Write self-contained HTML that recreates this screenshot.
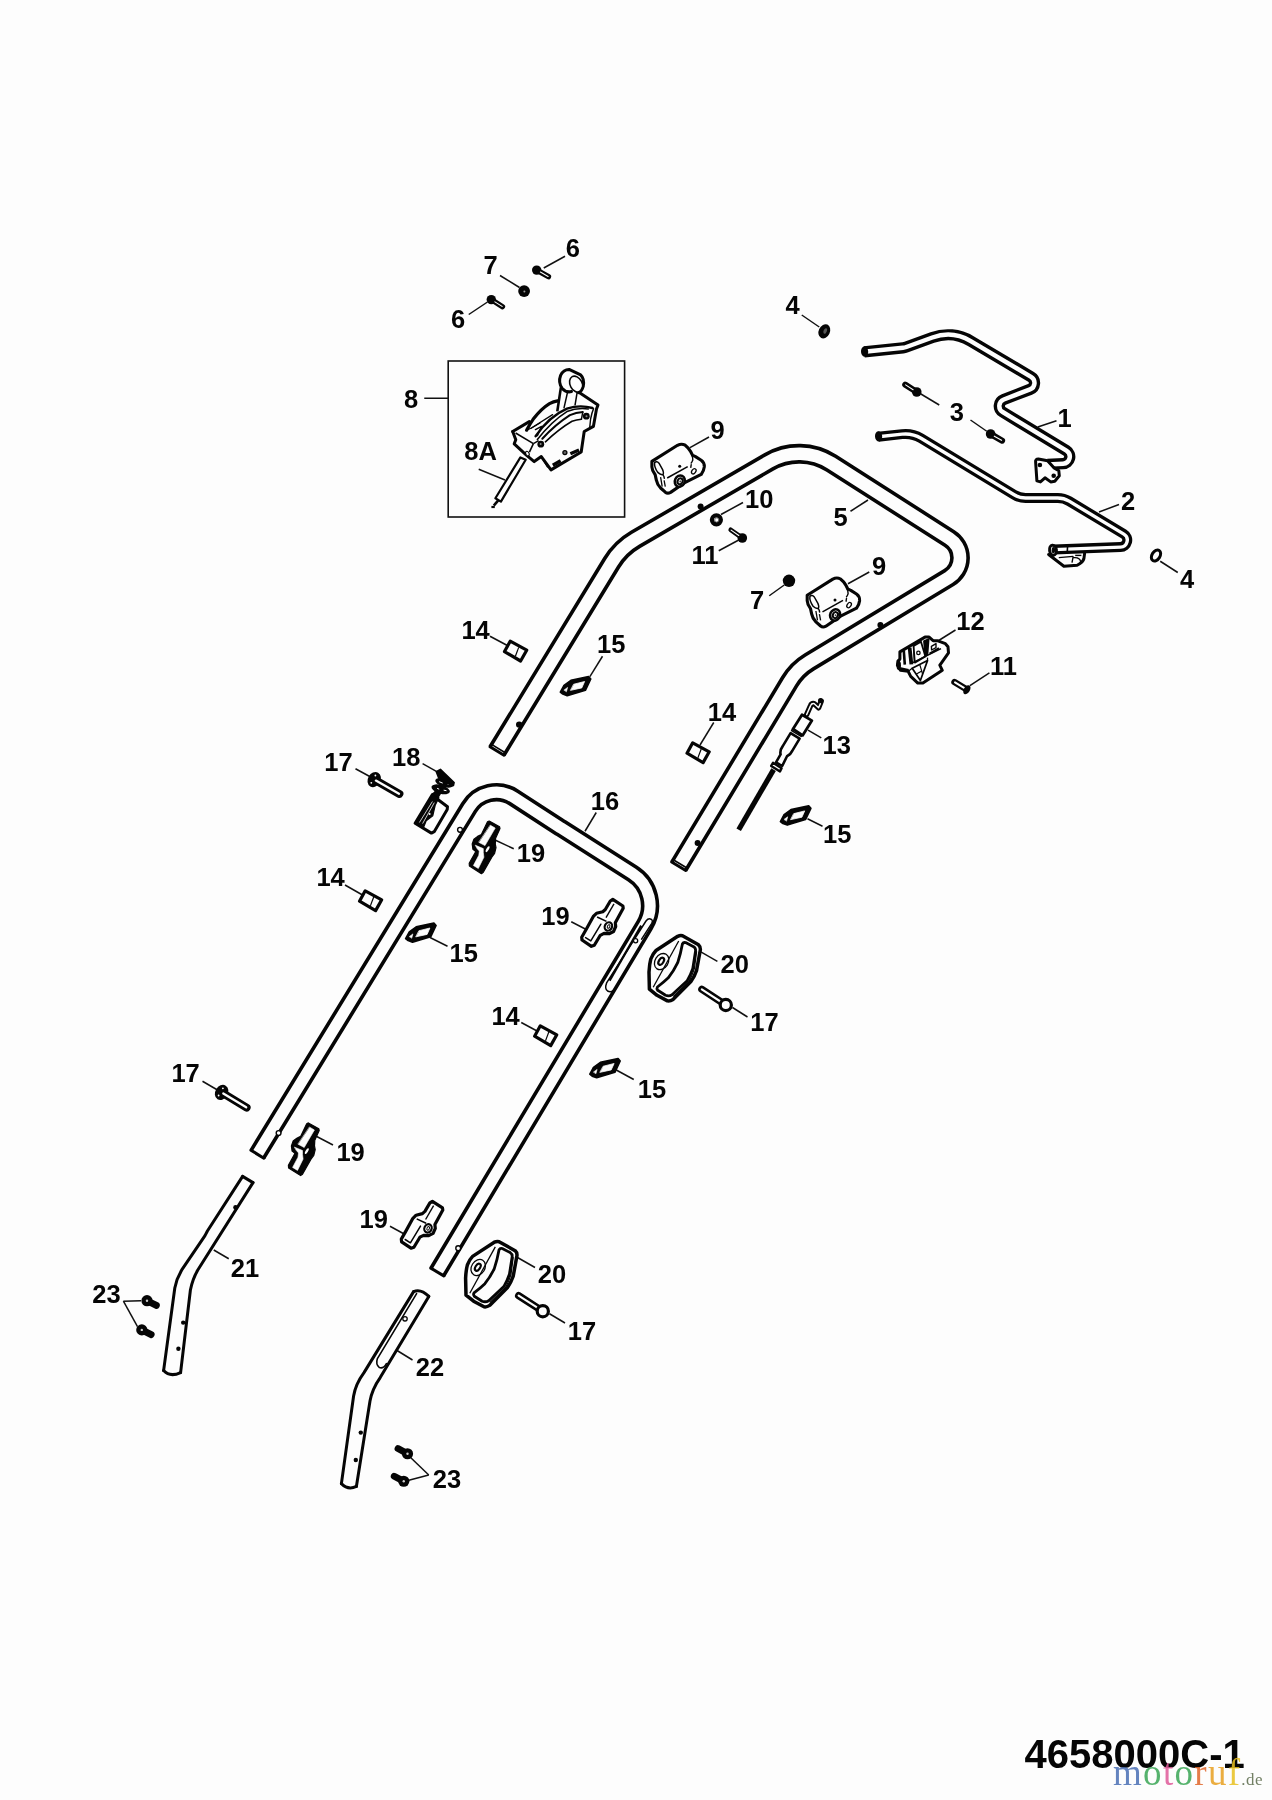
<!DOCTYPE html>
<html><head><meta charset="utf-8"><title>4658000C-1</title>
<style>html,body{margin:0;padding:0;background:#fdfdfd;}svg{display:block}</style></head>
<body><svg width="1272" height="1800" viewBox="0 0 1272 1800" style="will-change:transform">
<rect width="1272" height="1800" fill="#fdfdfd"/>
<path d="M497.00,751.00 L611.61,562.76 A68.00,68.00 0 0 1 635.54,539.32 L768.90,461.86 A60.00,60.00 0 0 1 831.31,463.15 L949.38,538.48 A23.00,23.00 0 0 1 948.91,577.56 L809.30,661.96 A58.00,58.00 0 0 0 789.60,681.72 L678.70,866.30" fill="none" stroke="#050505" stroke-width="19.8" stroke-linecap="butt" stroke-linejoin="round"/>
<path d="M497.00,751.00 L611.61,562.76 A68.00,68.00 0 0 1 635.54,539.32 L768.90,461.86 A60.00,60.00 0 0 1 831.31,463.15 L949.38,538.48 A23.00,23.00 0 0 1 948.91,577.56 L809.30,661.96 A58.00,58.00 0 0 0 789.60,681.72 L678.70,866.30" fill="none" stroke="#fdfdfd" stroke-width="12.6" stroke-linecap="butt" stroke-linejoin="round"/>
<line x1="504.0038951057213" y1="755.2644405668333" x2="489.9961048942787" y2="746.7355594331667" stroke="#050505" stroke-width="3.0" stroke-linecap="round"/>
<line x1="505.2321411311775" y1="752.7619523740274" x2="491.56785886882244" y2="744.4380476259727" stroke="#050505" stroke-width="1.6" stroke-linecap="round"/>
<line x1="685.7289208832906" y1="870.523064197528" x2="671.6710791167095" y2="862.0769358024719" stroke="#050505" stroke-width="3.0" stroke-linecap="round"/>
<line x1="686.9568308323583" y1="868.0211492252066" x2="673.2431691676418" y2="859.7788507747933" stroke="#050505" stroke-width="1.6" stroke-linecap="round"/>
<path d="M257.40,1154.20 L469.06,807.57 A32.00,32.00 0 0 1 513.79,797.41 L558.93,826.71 A300.00,300.00 0 0 0 561.07,828.08 L632.45,873.56 A38.00,38.00 0 0 1 644.65,925.10 L437.30,1272.00" fill="none" stroke="#050505" stroke-width="18.4" stroke-linecap="butt" stroke-linejoin="round"/>
<path d="M257.40,1154.20 L469.06,807.57 A32.00,32.00 0 0 1 513.79,797.41 L558.93,826.71 A300.00,300.00 0 0 0 561.07,828.08 L632.45,873.56 A38.00,38.00 0 0 1 644.65,925.10 L437.30,1272.00" fill="none" stroke="#fdfdfd" stroke-width="11.2" stroke-linecap="butt" stroke-linejoin="round"/>
<line x1="263.88635361787135" y1="1158.1607091213477" x2="250.91364638212858" y2="1150.2392908786524" stroke="#050505" stroke-width="3.0" stroke-linecap="round"/>
<line x1="443.82347458873375" y1="1275.8992665066837" x2="430.7765254112663" y2="1268.1007334933163" stroke="#050505" stroke-width="3.0" stroke-linecap="round"/>
<path d="M864.20,351.80 L902.98,347.78 A14.00,14.00 0 0 0 906.33,347.01 L932.37,337.51 A45.00,45.00 0 0 1 970.74,341.07 L1031.07,376.83 A7.00,7.00 0 0 1 1030.02,389.39 L1003.80,399.48 A7.00,7.00 0 0 0 1002.68,412.00 L1066.40,450.70 A7.00,7.00 0 0 1 1063.09,463.67 L1047.50,464.40" fill="none" stroke="#050505" stroke-width="11.3" stroke-linecap="butt" stroke-linejoin="round"/>
<path d="M864.20,351.80 L902.98,347.78 A14.00,14.00 0 0 0 906.33,347.01 L932.37,337.51 A45.00,45.00 0 0 1 970.74,341.07 L1031.07,376.83 A7.00,7.00 0 0 1 1030.02,389.39 L1003.80,399.48 A7.00,7.00 0 0 0 1002.68,412.00 L1066.40,450.70 A7.00,7.00 0 0 1 1063.09,463.67 L1047.50,464.40" fill="none" stroke="#fdfdfd" stroke-width="4.5" stroke-linecap="butt" stroke-linejoin="round"/>
<path d="M878.30,436.80 L902.14,434.14 A30.00,30.00 0 0 1 921.04,438.30 L1014.14,494.81 A22.00,22.00 0 0 0 1025.55,498.00 L1057.79,498.00 A22.00,22.00 0 0 1 1069.13,501.15 L1123.87,534.09 A7.00,7.00 0 0 1 1120.53,547.08 L1053.50,549.60" fill="none" stroke="#050505" stroke-width="10.0" stroke-linecap="butt" stroke-linejoin="round"/>
<path d="M878.30,436.80 L902.14,434.14 A30.00,30.00 0 0 1 921.04,438.30 L1014.14,494.81 A22.00,22.00 0 0 0 1025.55,498.00 L1057.79,498.00 A22.00,22.00 0 0 1 1069.13,501.15 L1123.87,534.09 A7.00,7.00 0 0 1 1120.53,547.08 L1053.50,549.60" fill="none" stroke="#fdfdfd" stroke-width="3.4" stroke-linecap="butt" stroke-linejoin="round"/>
<rect x="448.2" y="361" width="176.4" height="156" fill="none" stroke="#111" stroke-width="1.6"/>
<text x="1064.60" y="426.77" text-anchor="middle" font-size="25.5" font-weight="bold" fill="#050505" font-family="'Liberation Sans', sans-serif" >1</text>
<text x="1128.00" y="510.17" text-anchor="middle" font-size="25.5" font-weight="bold" fill="#050505" font-family="'Liberation Sans', sans-serif" >2</text>
<text x="956.75" y="420.67" text-anchor="middle" font-size="25.5" font-weight="bold" fill="#050505" font-family="'Liberation Sans', sans-serif" >3</text>
<text x="792.60" y="314.37" text-anchor="middle" font-size="25.5" font-weight="bold" fill="#050505" font-family="'Liberation Sans', sans-serif" >4</text>
<text x="1187.10" y="588.37" text-anchor="middle" font-size="25.5" font-weight="bold" fill="#050505" font-family="'Liberation Sans', sans-serif" >4</text>
<text x="840.50" y="525.77" text-anchor="middle" font-size="25.5" font-weight="bold" fill="#050505" font-family="'Liberation Sans', sans-serif" >5</text>
<text x="572.90" y="257.02" text-anchor="middle" font-size="25.5" font-weight="bold" fill="#050505" font-family="'Liberation Sans', sans-serif" >6</text>
<text x="458.00" y="327.77" text-anchor="middle" font-size="25.5" font-weight="bold" fill="#050505" font-family="'Liberation Sans', sans-serif" >6</text>
<text x="490.60" y="274.37" text-anchor="middle" font-size="25.5" font-weight="bold" fill="#050505" font-family="'Liberation Sans', sans-serif" >7</text>
<text x="757.00" y="609.37" text-anchor="middle" font-size="25.5" font-weight="bold" fill="#050505" font-family="'Liberation Sans', sans-serif" >7</text>
<text x="411.00" y="407.52" text-anchor="middle" font-size="25.5" font-weight="bold" fill="#050505" font-family="'Liberation Sans', sans-serif" >8</text>
<text x="480.60" y="460.02" text-anchor="middle" font-size="25.5" font-weight="bold" fill="#050505" font-family="'Liberation Sans', sans-serif" >8A</text>
<text x="717.50" y="438.77" text-anchor="middle" font-size="25.5" font-weight="bold" fill="#050505" font-family="'Liberation Sans', sans-serif" >9</text>
<text x="879.00" y="574.77" text-anchor="middle" font-size="25.5" font-weight="bold" fill="#050505" font-family="'Liberation Sans', sans-serif" >9</text>
<text x="759.25" y="507.67" text-anchor="middle" font-size="25.5" font-weight="bold" fill="#050505" font-family="'Liberation Sans', sans-serif" >10</text>
<text x="705.00" y="564.37" text-anchor="middle" font-size="25.5" font-weight="bold" fill="#050505" font-family="'Liberation Sans', sans-serif" >11</text>
<text x="1003.40" y="675.17" text-anchor="middle" font-size="25.5" font-weight="bold" fill="#050505" font-family="'Liberation Sans', sans-serif" >11</text>
<text x="970.50" y="629.52" text-anchor="middle" font-size="25.5" font-weight="bold" fill="#050505" font-family="'Liberation Sans', sans-serif" >12</text>
<text x="836.70" y="754.07" text-anchor="middle" font-size="25.5" font-weight="bold" fill="#050505" font-family="'Liberation Sans', sans-serif" >13</text>
<text x="475.60" y="639.37" text-anchor="middle" font-size="25.5" font-weight="bold" fill="#050505" font-family="'Liberation Sans', sans-serif" >14</text>
<text x="722.00" y="720.67" text-anchor="middle" font-size="25.5" font-weight="bold" fill="#050505" font-family="'Liberation Sans', sans-serif" >14</text>
<text x="330.60" y="885.77" text-anchor="middle" font-size="25.5" font-weight="bold" fill="#050505" font-family="'Liberation Sans', sans-serif" >14</text>
<text x="505.60" y="1024.77" text-anchor="middle" font-size="25.5" font-weight="bold" fill="#050505" font-family="'Liberation Sans', sans-serif" >14</text>
<text x="611.25" y="653.17" text-anchor="middle" font-size="25.5" font-weight="bold" fill="#050505" font-family="'Liberation Sans', sans-serif" >15</text>
<text x="837.25" y="842.77" text-anchor="middle" font-size="25.5" font-weight="bold" fill="#050505" font-family="'Liberation Sans', sans-serif" >15</text>
<text x="463.75" y="961.77" text-anchor="middle" font-size="25.5" font-weight="bold" fill="#050505" font-family="'Liberation Sans', sans-serif" >15</text>
<text x="651.90" y="1097.52" text-anchor="middle" font-size="25.5" font-weight="bold" fill="#050505" font-family="'Liberation Sans', sans-serif" >15</text>
<text x="605.00" y="809.77" text-anchor="middle" font-size="25.5" font-weight="bold" fill="#050505" font-family="'Liberation Sans', sans-serif" >16</text>
<text x="338.50" y="770.77" text-anchor="middle" font-size="25.5" font-weight="bold" fill="#050505" font-family="'Liberation Sans', sans-serif" >17</text>
<text x="764.40" y="1030.67" text-anchor="middle" font-size="25.5" font-weight="bold" fill="#050505" font-family="'Liberation Sans', sans-serif" >17</text>
<text x="185.60" y="1082.37" text-anchor="middle" font-size="25.5" font-weight="bold" fill="#050505" font-family="'Liberation Sans', sans-serif" >17</text>
<text x="581.90" y="1339.77" text-anchor="middle" font-size="25.5" font-weight="bold" fill="#050505" font-family="'Liberation Sans', sans-serif" >17</text>
<text x="406.25" y="766.02" text-anchor="middle" font-size="25.5" font-weight="bold" fill="#050505" font-family="'Liberation Sans', sans-serif" >18</text>
<text x="531.00" y="862.17" text-anchor="middle" font-size="25.5" font-weight="bold" fill="#050505" font-family="'Liberation Sans', sans-serif" >19</text>
<text x="555.40" y="924.77" text-anchor="middle" font-size="25.5" font-weight="bold" fill="#050505" font-family="'Liberation Sans', sans-serif" >19</text>
<text x="350.60" y="1160.77" text-anchor="middle" font-size="25.5" font-weight="bold" fill="#050505" font-family="'Liberation Sans', sans-serif" >19</text>
<text x="373.75" y="1228.17" text-anchor="middle" font-size="25.5" font-weight="bold" fill="#050505" font-family="'Liberation Sans', sans-serif" >19</text>
<text x="734.75" y="973.37" text-anchor="middle" font-size="25.5" font-weight="bold" fill="#050505" font-family="'Liberation Sans', sans-serif" >20</text>
<text x="552.00" y="1282.52" text-anchor="middle" font-size="25.5" font-weight="bold" fill="#050505" font-family="'Liberation Sans', sans-serif" >20</text>
<text x="245.00" y="1277.27" text-anchor="middle" font-size="25.5" font-weight="bold" fill="#050505" font-family="'Liberation Sans', sans-serif" >21</text>
<text x="430.00" y="1375.67" text-anchor="middle" font-size="25.5" font-weight="bold" fill="#050505" font-family="'Liberation Sans', sans-serif" >22</text>
<text x="106.50" y="1303.37" text-anchor="middle" font-size="25.5" font-weight="bold" fill="#050505" font-family="'Liberation Sans', sans-serif" >23</text>
<text x="446.90" y="1488.37" text-anchor="middle" font-size="25.5" font-weight="bold" fill="#050505" font-family="'Liberation Sans', sans-serif" >23</text>
<line x1="1037.75" y1="427" x2="1056.5" y2="420.75" stroke="#111" stroke-width="1.5" stroke-linecap="butt"/>
<line x1="1099" y1="512" x2="1119" y2="504.5" stroke="#111" stroke-width="1.5" stroke-linecap="butt"/>
<line x1="920.5" y1="393.75" x2="939.25" y2="405" stroke="#111" stroke-width="1.5" stroke-linecap="butt"/>
<line x1="970.5" y1="420" x2="986.75" y2="431.25" stroke="#111" stroke-width="1.5" stroke-linecap="butt"/>
<line x1="801.75" y1="315" x2="819.25" y2="327" stroke="#111" stroke-width="1.5" stroke-linecap="butt"/>
<line x1="1160.25" y1="561.25" x2="1177.75" y2="572.5" stroke="#111" stroke-width="1.5" stroke-linecap="butt"/>
<line x1="850.5" y1="511.25" x2="868" y2="500" stroke="#111" stroke-width="1.5" stroke-linecap="butt"/>
<line x1="543.75" y1="268" x2="565" y2="256.25" stroke="#111" stroke-width="1.5" stroke-linecap="butt"/>
<line x1="468.75" y1="314.5" x2="487.5" y2="302" stroke="#111" stroke-width="1.5" stroke-linecap="butt"/>
<line x1="500" y1="275.5" x2="519.5" y2="287.5" stroke="#111" stroke-width="1.5" stroke-linecap="butt"/>
<line x1="769.25" y1="595.75" x2="784.25" y2="585" stroke="#111" stroke-width="1.5" stroke-linecap="butt"/>
<line x1="424.25" y1="398.25" x2="448.25" y2="398.25" stroke="#111" stroke-width="1.5" stroke-linecap="butt"/>
<line x1="478.75" y1="469.25" x2="505" y2="480" stroke="#111" stroke-width="1.5" stroke-linecap="butt"/>
<line x1="690" y1="447.7" x2="709" y2="437" stroke="#111" stroke-width="1.5" stroke-linecap="butt"/>
<line x1="848" y1="583.75" x2="869.25" y2="572" stroke="#111" stroke-width="1.5" stroke-linecap="butt"/>
<line x1="721" y1="514.5" x2="743" y2="502.5" stroke="#111" stroke-width="1.5" stroke-linecap="butt"/>
<line x1="718.75" y1="550.75" x2="738.75" y2="540" stroke="#111" stroke-width="1.5" stroke-linecap="butt"/>
<line x1="969.9" y1="685.6" x2="989.4" y2="672.9" stroke="#111" stroke-width="1.5" stroke-linecap="butt"/>
<line x1="935.5" y1="642.5" x2="955.5" y2="630" stroke="#111" stroke-width="1.5" stroke-linecap="butt"/>
<line x1="808" y1="730.2" x2="821.3" y2="737.9" stroke="#111" stroke-width="1.5" stroke-linecap="butt"/>
<line x1="490" y1="636.25" x2="508.75" y2="646.25" stroke="#111" stroke-width="1.5" stroke-linecap="butt"/>
<line x1="713.75" y1="722.5" x2="700" y2="745" stroke="#111" stroke-width="1.5" stroke-linecap="butt"/>
<line x1="345" y1="885" x2="362.5" y2="895" stroke="#111" stroke-width="1.5" stroke-linecap="butt"/>
<line x1="521.25" y1="1022.5" x2="537.5" y2="1031.25" stroke="#111" stroke-width="1.5" stroke-linecap="butt"/>
<line x1="602.5" y1="656.25" x2="589.9" y2="676.6" stroke="#111" stroke-width="1.5" stroke-linecap="butt"/>
<line x1="807.5" y1="818.75" x2="822.5" y2="826.25" stroke="#111" stroke-width="1.5" stroke-linecap="butt"/>
<line x1="430" y1="937.5" x2="447.5" y2="946.25" stroke="#111" stroke-width="1.5" stroke-linecap="butt"/>
<line x1="616.25" y1="1070" x2="633.75" y2="1079.5" stroke="#111" stroke-width="1.5" stroke-linecap="butt"/>
<line x1="596.25" y1="812.5" x2="585" y2="831.25" stroke="#111" stroke-width="1.5" stroke-linecap="butt"/>
<line x1="355.5" y1="768.75" x2="372.5" y2="778" stroke="#111" stroke-width="1.5" stroke-linecap="butt"/>
<line x1="732.5" y1="1007.5" x2="747.5" y2="1017" stroke="#111" stroke-width="1.5" stroke-linecap="butt"/>
<line x1="202.5" y1="1081.25" x2="217.5" y2="1090" stroke="#111" stroke-width="1.5" stroke-linecap="butt"/>
<line x1="549.5" y1="1313.75" x2="565" y2="1323" stroke="#111" stroke-width="1.5" stroke-linecap="butt"/>
<line x1="422.6" y1="763.6" x2="436.8" y2="771.6" stroke="#111" stroke-width="1.5" stroke-linecap="butt"/>
<line x1="495" y1="840" x2="513.75" y2="848.75" stroke="#111" stroke-width="1.5" stroke-linecap="butt"/>
<line x1="571.25" y1="921.75" x2="586.25" y2="929.5" stroke="#111" stroke-width="1.5" stroke-linecap="butt"/>
<line x1="316.25" y1="1136.25" x2="333" y2="1145" stroke="#111" stroke-width="1.5" stroke-linecap="butt"/>
<line x1="390" y1="1226.25" x2="403.75" y2="1233.75" stroke="#111" stroke-width="1.5" stroke-linecap="butt"/>
<line x1="700.8" y1="951.9" x2="717.4" y2="961.3" stroke="#111" stroke-width="1.5" stroke-linecap="butt"/>
<line x1="517.5" y1="1257.5" x2="535" y2="1267.5" stroke="#111" stroke-width="1.5" stroke-linecap="butt"/>
<line x1="213.75" y1="1250" x2="228.75" y2="1258.75" stroke="#111" stroke-width="1.5" stroke-linecap="butt"/>
<line x1="396.25" y1="1350" x2="412.5" y2="1360" stroke="#111" stroke-width="1.5" stroke-linecap="butt"/>
<line x1="123.4" y1="1301.2" x2="141" y2="1300.8" stroke="#111" stroke-width="1.5" stroke-linecap="butt"/>
<line x1="123.4" y1="1301.2" x2="137.5" y2="1326.6" stroke="#111" stroke-width="1.5" stroke-linecap="butt"/>
<line x1="409" y1="1456" x2="428.75" y2="1475" stroke="#111" stroke-width="1.5" stroke-linecap="butt"/>
<line x1="406" y1="1481" x2="428.75" y2="1475" stroke="#111" stroke-width="1.5" stroke-linecap="butt"/>
<text x="1134.70" y="1768.36" text-anchor="middle" font-size="40" font-weight="bold" fill="#050505" font-family="'Liberation Sans', sans-serif" >4658000C-1</text>
<defs><linearGradient id="wmg" gradientUnits="userSpaceOnUse" x1="1113" y1="0" x2="1245" y2="0"><stop offset="0.0000" stop-color="#4a6fb5"/><stop offset="0.2280" stop-color="#4a6fb5"/><stop offset="0.2280" stop-color="#3aa655"/><stop offset="0.3780" stop-color="#3aa655"/><stop offset="0.3780" stop-color="#e05a9a"/><stop offset="0.4659" stop-color="#e05a9a"/><stop offset="0.4659" stop-color="#3aa655"/><stop offset="0.6159" stop-color="#3aa655"/><stop offset="0.6159" stop-color="#e0662a"/><stop offset="0.7189" stop-color="#e0662a"/><stop offset="0.7189" stop-color="#e8a020"/><stop offset="0.8689" stop-color="#e8a020"/><stop offset="0.8689" stop-color="#e8c020"/><stop offset="1.0000" stop-color="#e8c020"/></linearGradient></defs>
<text x="1113" y="1785" font-family="'Liberation Serif', serif" font-size="37" letter-spacing="1.3" opacity="0.85" fill="url(#wmg)">motoruf<tspan fill="#5a6a4a" font-size="17" letter-spacing="0.5">.de</tspan></text>
<line x1="536.7" y1="270.1" x2="548.5" y2="276.6" stroke="#050505" stroke-width="5.3" stroke-linecap="round"/>
<circle cx="536.7" cy="270.1" r="4.7" fill="#050505"/>
<line x1="540.4" y1="272.1" x2="548.1" y2="276.4" stroke="#fdfdfd" stroke-width="1.1" stroke-linecap="round"/>
<line x1="491.3" y1="299.6" x2="502.5" y2="306.7" stroke="#050505" stroke-width="5.3" stroke-linecap="round"/>
<circle cx="491.3" cy="299.6" r="4.7" fill="#050505"/>
<line x1="494.9" y1="301.9" x2="502.1" y2="306.4" stroke="#fdfdfd" stroke-width="1.1" stroke-linecap="round"/>
<circle cx="524.1" cy="291.1" r="5.9" fill="#050505"/>
<circle cx="524.4" cy="291.40000000000003" r="1.0" fill="#999"/>
<circle cx="789" cy="580.8" r="6.2" fill="#050505"/>
<circle cx="716.4" cy="519.8" r="4.5" fill="#fdfdfd" stroke="#050505" stroke-width="4.2"/>
<circle cx="716.8" cy="520" r="2.1" fill="none" stroke="#555" stroke-width="0.8"/>
<line x1="742.3" y1="538" x2="730.7" y2="529.8" stroke="#050505" stroke-width="4.6" stroke-linecap="round"/>
<circle cx="742.3" cy="538" r="4.8" fill="#050505"/>
<line x1="738.8" y1="535.5" x2="731.1" y2="530.1" stroke="#fdfdfd" stroke-width="1.1" stroke-linecap="round"/>
<line x1="966.0" y1="689.0" x2="954.4" y2="682.0" stroke="#050505" stroke-width="6.2" stroke-linecap="round"/>
<line x1="964.0" y1="687.8" x2="955.0" y2="682.4" stroke="#fdfdfd" stroke-width="2.0" stroke-linecap="round"/>
<ellipse cx="966.9" cy="689.7" rx="3.0" ry="5.0" transform="rotate(31 966.9 689.7)" fill="#050505"/>
<line x1="916.75" y1="392" x2="905.2" y2="384.6" stroke="#050505" stroke-width="6.0" stroke-linecap="round"/>
<circle cx="916.75" cy="392" r="4.8" fill="#050505"/>
<line x1="913.1" y1="389.7" x2="905.6" y2="384.9" stroke="#fdfdfd" stroke-width="1.1" stroke-linecap="round"/>
<line x1="990.6" y1="434.0" x2="1002.0" y2="440.6" stroke="#050505" stroke-width="6.2" stroke-linecap="round"/>
<circle cx="990.6" cy="434.0" r="4.8" fill="#050505"/>
<line x1="994.3" y1="436.2" x2="1001.6" y2="440.3" stroke="#fdfdfd" stroke-width="1.1" stroke-linecap="round"/>
<circle cx="700.6" cy="506.6" r="3.0" fill="#050505"/>
<circle cx="880.4" cy="625.0" r="3.0" fill="#050505"/>
<circle cx="519.2" cy="724.6" r="3.2" fill="#050505"/>
<circle cx="697.6" cy="843.0" r="3.0" fill="#050505"/>
<ellipse cx="824.3" cy="331.3" rx="5.6" ry="7.4" transform="rotate(25 824.3 331.3)" fill="#050505"/>
<ellipse cx="825.2" cy="331.0" rx="1.6" ry="3.0" transform="rotate(25 825.2 331)" fill="#555"/>
<ellipse cx="1156" cy="555.5" rx="4.0" ry="6.0" transform="rotate(32 1156 555.5)" fill="#fdfdfd" stroke="#050505" stroke-width="3.0"/>
<ellipse cx="864.6" cy="351.6" rx="3.6" ry="5.2" transform="rotate(-5 864.6 351.6)" fill="#050505"/>
<ellipse cx="878.6" cy="436.4" rx="3.6" ry="5.2" transform="rotate(-5 878.6 436.4)" fill="#050505"/>
<path d="M510.2,641.2 L526.7,650.2 L520.6,661.0 L504.5,651.6 Z" fill="#fdfdfd" stroke="#050505" stroke-width="3.2" stroke-linejoin="round" stroke-linecap="round" />
<line x1="518.7" y1="647.4" x2="515.4" y2="656.3" stroke="#050505" stroke-width="1.2" stroke-linecap="butt"/>
<path d="M692.7,742.8 L709.2,751.8 L703.1,762.6 L687.0,753.2 Z" fill="#fdfdfd" stroke="#050505" stroke-width="3.2" stroke-linejoin="round" stroke-linecap="round" />
<line x1="701.2" y1="749.0" x2="697.9" y2="757.9" stroke="#050505" stroke-width="1.2" stroke-linecap="butt"/>
<path d="M365.2,890.8 L381.7,899.8 L375.6,910.6 L359.5,901.2 Z" fill="#fdfdfd" stroke="#050505" stroke-width="3.2" stroke-linejoin="round" stroke-linecap="round" />
<line x1="373.7" y1="897.0" x2="370.4" y2="905.9" stroke="#050505" stroke-width="1.2" stroke-linecap="butt"/>
<path d="M540.3,1025.8 L556.8,1034.8 L550.7,1045.6 L534.6,1036.2 Z" fill="#fdfdfd" stroke="#050505" stroke-width="3.2" stroke-linejoin="round" stroke-linecap="round" />
<line x1="548.8000000000001" y1="1032.0" x2="545.5" y2="1040.8999999999999" stroke="#050505" stroke-width="1.2" stroke-linecap="butt"/>
<path d="M560.3,692.2 L564.0,685.3 L570.9,680.3 L588.6,676.5 L590.8,679.0 L585.4,690.3 L567.2,695.7 L562.8,694.1 Z" fill="#050505" stroke="#050505" stroke-width="1.6" stroke-linejoin="round" stroke-linecap="round" />
<path d="M573.9,684.2 L584.6,681.5 L581.8,687.9 L570.8,690.3 Z" fill="#fdfdfd" stroke="#fdfdfd" stroke-width="0.8" stroke-linejoin="round" stroke-linecap="round" />
<path d="M564.2,689.9 L567.6,687.4 L566.5,691.4 Z" fill="#fdfdfd" stroke="#fdfdfd" stroke-width="0.6" stroke-linejoin="round" stroke-linecap="round" />
<path d="M780.4,821.6 L784.1,814.6 L791.0,809.6 L808.7,805.9 L810.9,808.4 L805.5,819.6 L787.3,825.1 L782.9,823.5 Z" fill="#050505" stroke="#050505" stroke-width="1.6" stroke-linejoin="round" stroke-linecap="round" />
<path d="M794.0,813.6 L804.7,810.9 L801.9,817.2 L790.9,819.6 Z" fill="#fdfdfd" stroke="#fdfdfd" stroke-width="0.8" stroke-linejoin="round" stroke-linecap="round" />
<path d="M784.3,819.2 L787.7,816.8 L786.6,820.8 Z" fill="#fdfdfd" stroke="#fdfdfd" stroke-width="0.6" stroke-linejoin="round" stroke-linecap="round" />
<path d="M405.6,938.7 L409.3,931.8 L416.2,926.8 L433.9,923.0 L436.1,925.5 L430.7,936.8 L412.5,942.2 L408.1,940.6 Z" fill="#050505" stroke="#050505" stroke-width="1.6" stroke-linejoin="round" stroke-linecap="round" />
<path d="M419.2,930.7 L429.9,928.0 L427.1,934.4 L416.1,936.8 Z" fill="#fdfdfd" stroke="#fdfdfd" stroke-width="0.8" stroke-linejoin="round" stroke-linecap="round" />
<path d="M409.5,936.4 L412.9,933.9 L411.8,937.9 Z" fill="#fdfdfd" stroke="#fdfdfd" stroke-width="0.6" stroke-linejoin="round" stroke-linecap="round" />
<path d="M589.8,1074.2 L593.5,1067.3 L600.4,1062.3 L618.1,1058.5 L620.2,1061.0 L614.9,1072.3 L596.7,1077.8 L592.2,1076.2 Z" fill="#050505" stroke="#050505" stroke-width="1.6" stroke-linejoin="round" stroke-linecap="round" />
<path d="M603.4,1066.2 L614.1,1063.5 L611.2,1069.9 L600.2,1072.3 Z" fill="#fdfdfd" stroke="#fdfdfd" stroke-width="0.8" stroke-linejoin="round" stroke-linecap="round" />
<path d="M593.7,1071.9 L597.1,1069.4 L596.0,1073.4 Z" fill="#fdfdfd" stroke="#fdfdfd" stroke-width="0.6" stroke-linejoin="round" stroke-linecap="round" />
<line x1="374.2" y1="779.6" x2="399.4" y2="793.9" stroke="#050505" stroke-width="8.0" stroke-linecap="round"/>
<ellipse cx="374.2" cy="779.6" rx="5.0" ry="6.6" transform="rotate(29.6 374.2 779.6)" fill="#050505" stroke="#050505" stroke-width="2.6"/>
<line x1="375.9" y1="780.6" x2="399.0" y2="793.7" stroke="#fdfdfd" stroke-width="2.3" stroke-linecap="round"/>
<circle cx="375.4" cy="775.5" r="0.9" fill="#fdfdfd"/>
<circle cx="371.3" cy="782.8" r="0.9" fill="#fdfdfd"/>
<line x1="221.6" y1="1092.4" x2="246.6" y2="1107.6" stroke="#050505" stroke-width="8.0" stroke-linecap="round"/>
<ellipse cx="221.6" cy="1092.4" rx="5.0" ry="6.6" transform="rotate(31.3 221.6 1092.4)" fill="#050505" stroke="#050505" stroke-width="2.6"/>
<line x1="223.3" y1="1093.4" x2="246.2" y2="1107.3" stroke="#fdfdfd" stroke-width="2.3" stroke-linecap="round"/>
<circle cx="222.9" cy="1088.3" r="0.9" fill="#fdfdfd"/>
<circle cx="218.6" cy="1095.5" r="0.9" fill="#fdfdfd"/>
<line x1="701.8" y1="989.3" x2="725.8" y2="1005.0" stroke="#050505" stroke-width="7.2" stroke-linecap="round"/>
<line x1="701.8" y1="989.3" x2="725.8" y2="1005.0" stroke="#fdfdfd" stroke-width="2.1" stroke-linecap="round"/>
<circle cx="725.8" cy="1005.0" r="5.6" fill="#fdfdfd" stroke="#050505" stroke-width="3.2"/>
<line x1="518.6" y1="1295.6" x2="542.8" y2="1311.2" stroke="#050505" stroke-width="7.2" stroke-linecap="round"/>
<line x1="518.6" y1="1295.6" x2="542.8" y2="1311.2" stroke="#fdfdfd" stroke-width="2.1" stroke-linecap="round"/>
<circle cx="542.8" cy="1311.2" r="5.6" fill="#fdfdfd" stroke="#050505" stroke-width="3.2"/>
<g transform="translate(0,0)">
<path d="M651.9,461.4 L677.5,445.3 Q681.5,443.2 685.2,445.2 Q688.8,448 690.6,451.5 L692.6,455.4 Q694,456 695.5,456.6 L701.2,460.2 Q704.6,462.6 704.3,466.9 Q703.8,471.2 701.2,474.4 L685.3,482.3 L670.6,492.4 Q667.6,494 665.3,492.2 L660.6,488 Q657.2,484.6 656.4,480.3 L655.2,474.8 Q652,470.6 651.9,467 Z" fill="#fdfdfd" stroke="#050505" stroke-width="3.1" stroke-linejoin="round" stroke-linecap="round" />
<path d="M654.6,462.6 Q656.6,460.6 659,463.2 L662.6,469.6 Q664.2,473.6 662.8,474.6 Q660.4,475 657.8,472.4 Q654,467 654.6,462.6 Z" fill="none" stroke="#050505" stroke-width="1.5" stroke-linejoin="round" stroke-linecap="round" />
<path d="M662.9,474.6 Q664.2,476.3 664.3,478.2" fill="none" stroke="#050505" stroke-width="1.5" stroke-linejoin="round" stroke-linecap="round" />
<line x1="660.6" y1="477.2" x2="662.2" y2="486.6" stroke="#050505" stroke-width="1.3" stroke-linecap="butt"/>
<line x1="664.1" y1="480.3" x2="665.3" y2="486.6" stroke="#050505" stroke-width="1.3" stroke-linecap="butt"/>
<line x1="667.2" y1="478" x2="687.7" y2="466.6" stroke="#050505" stroke-width="1.5" stroke-linecap="butt"/>
<circle cx="679.7" cy="466.3" r="1.5" fill="#050505"/>
<path d="M689.3,448.9 Q692.8,455.4 692.8,459.9 Q691.8,462.4 691.2,463.0" fill="none" stroke="#050505" stroke-width="1.4" stroke-linejoin="round" stroke-linecap="round" />
<path d="M691.2,464.6 L690.8,467.4" fill="none" stroke="#050505" stroke-width="1.4" stroke-linejoin="round" stroke-linecap="round" />
<ellipse cx="693.8" cy="471.3" rx="1.9" ry="2.9" transform="rotate(35 693.8 471.3)" fill="#fdfdfd" stroke="#050505" stroke-width="1.3"/>
<ellipse cx="679.8" cy="481.1" rx="4.9" ry="5.7" transform="rotate(25 679.8 481.1)" fill="#fdfdfd" stroke="#050505" stroke-width="2.5"/>
<ellipse cx="680.1" cy="481.3" rx="2.5" ry="3.1" transform="rotate(25 680.1 481.3)" fill="#fdfdfd" stroke="#050505" stroke-width="2.0"/>
<circle cx="680.3" cy="481.5" r="1.0" fill="#444"/>
</g>
<g transform="translate(155.3,133.8)">
<path d="M651.9,461.4 L677.5,445.3 Q681.5,443.2 685.2,445.2 Q688.8,448 690.6,451.5 L692.6,455.4 Q694,456 695.5,456.6 L701.2,460.2 Q704.6,462.6 704.3,466.9 Q703.8,471.2 701.2,474.4 L685.3,482.3 L670.6,492.4 Q667.6,494 665.3,492.2 L660.6,488 Q657.2,484.6 656.4,480.3 L655.2,474.8 Q652,470.6 651.9,467 Z" fill="#fdfdfd" stroke="#050505" stroke-width="3.1" stroke-linejoin="round" stroke-linecap="round" />
<path d="M654.6,462.6 Q656.6,460.6 659,463.2 L662.6,469.6 Q664.2,473.6 662.8,474.6 Q660.4,475 657.8,472.4 Q654,467 654.6,462.6 Z" fill="none" stroke="#050505" stroke-width="1.5" stroke-linejoin="round" stroke-linecap="round" />
<path d="M662.9,474.6 Q664.2,476.3 664.3,478.2" fill="none" stroke="#050505" stroke-width="1.5" stroke-linejoin="round" stroke-linecap="round" />
<line x1="660.6" y1="477.2" x2="662.2" y2="486.6" stroke="#050505" stroke-width="1.3" stroke-linecap="butt"/>
<line x1="664.1" y1="480.3" x2="665.3" y2="486.6" stroke="#050505" stroke-width="1.3" stroke-linecap="butt"/>
<line x1="667.2" y1="478" x2="687.7" y2="466.6" stroke="#050505" stroke-width="1.5" stroke-linecap="butt"/>
<circle cx="679.7" cy="466.3" r="1.5" fill="#050505"/>
<path d="M689.3,448.9 Q692.8,455.4 692.8,459.9 Q691.8,462.4 691.2,463.0" fill="none" stroke="#050505" stroke-width="1.4" stroke-linejoin="round" stroke-linecap="round" />
<path d="M691.2,464.6 L690.8,467.4" fill="none" stroke="#050505" stroke-width="1.4" stroke-linejoin="round" stroke-linecap="round" />
<ellipse cx="693.8" cy="471.3" rx="1.9" ry="2.9" transform="rotate(35 693.8 471.3)" fill="#fdfdfd" stroke="#050505" stroke-width="1.3"/>
<ellipse cx="679.8" cy="481.1" rx="4.9" ry="5.7" transform="rotate(25 679.8 481.1)" fill="#fdfdfd" stroke="#050505" stroke-width="2.5"/>
<ellipse cx="680.1" cy="481.3" rx="2.5" ry="3.1" transform="rotate(25 680.1 481.3)" fill="#fdfdfd" stroke="#050505" stroke-width="2.0"/>
<circle cx="680.3" cy="481.5" r="1.0" fill="#444"/>
</g>
<path d="M526.6,430.2 Q529.5,424.5 533.1,419.3 Q541,408.8 549.5,403.6 Q553.5,401.6 557.6,400.9" fill="none" stroke="#050505" stroke-width="3.2" stroke-linejoin="round" stroke-linecap="round" />
<path d="M512.7,431.5 L529.3,421.6" fill="none" stroke="#050505" stroke-width="3.0" stroke-linejoin="round" stroke-linecap="round" />
<path d="M512.7,431.5 L515.8,439.7 L514.2,443.8 L526.4,455.2 L534.2,461.6 L541.3,456.6 L551,469.9 L581.2,452 L584.2,431.5 L593.4,426.4 L596.5,409.1 L598,405 L579.6,392.7" fill="none" stroke="#050505" stroke-width="3.0" stroke-linejoin="round" stroke-linecap="round" />
<ellipse cx="576.2" cy="384.2" rx="6.0" ry="8.6" transform="rotate(-28 576.2 384.2)" fill="#fdfdfd" stroke="#050505" stroke-width="1.6"/>
<path d="M571.5,391.5 Q566.4,393 562.2,388.4 Q557.9,382.6 560.6,375.4 Q563.6,369.3 569.6,369.6 L580.6,374.8 Q584.8,378.8 583.2,386.6 Q581.6,391.6 578.4,392.6" fill="none" stroke="#050505" stroke-width="3.0" stroke-linejoin="round" stroke-linecap="round" />
<path d="M569.6,369.6 Q575.8,372.2 580.6,374.8" fill="none" stroke="#050505" stroke-width="1.4" stroke-linejoin="round" stroke-linecap="round" />
<line x1="560.9" y1="387.4" x2="557.3" y2="411.4" stroke="#050505" stroke-width="2.6" stroke-linecap="butt"/>
<line x1="567.9" y1="390.6" x2="563.9" y2="408.4" stroke="#050505" stroke-width="1.5" stroke-linecap="butt"/>
<line x1="577.1" y1="392.6" x2="575.0" y2="405.4" stroke="#050505" stroke-width="1.5" stroke-linecap="butt"/>
<path d="M535.6,436.2 Q549,416.5 566.9,408.6 Q580,404.4 592.4,408" fill="none" stroke="#050505" stroke-width="2.4" stroke-linejoin="round" stroke-linecap="round" />
<path d="M537.4,439.6 Q551.5,421.3 566.9,411.6 Q577,407.4 588.3,409.0" fill="none" stroke="#050505" stroke-width="1.6" stroke-linejoin="round" stroke-linecap="round" />
<path d="M542.3,438.7 Q555.6,424.4 569.9,415.2 Q576,412.5 582.8,412.0" fill="none" stroke="#050505" stroke-width="2.0" stroke-linejoin="round" stroke-linecap="round" />
<path d="M545.4,441.8 Q559.7,428.5 572,421.3 Q576.5,419.8 581.4,419.3" fill="none" stroke="#050505" stroke-width="1.6" stroke-linejoin="round" stroke-linecap="round" />
<line x1="582.8" y1="412.0" x2="581.4" y2="419.3" stroke="#050505" stroke-width="1.4" stroke-linecap="butt"/>
<line x1="515.6" y1="433.0" x2="533.4" y2="443.6" stroke="#050505" stroke-width="1.6" stroke-linecap="butt"/>
<line x1="533.4" y1="443.6" x2="529.4" y2="452.2" stroke="#050505" stroke-width="1.6" stroke-linecap="butt"/>
<line x1="533.4" y1="443.6" x2="538.6" y2="440.6" stroke="#050505" stroke-width="1.4" stroke-linecap="butt"/>
<path d="M526.6,430.2 L531.5,428 L540,423" fill="none" stroke="#050505" stroke-width="1.3" stroke-linejoin="round" stroke-linecap="round" />
<path d="M535.4,429.6 L541.6,426.4 L537.4,435.6 L535.7,436.2" fill="none" stroke="#050505" stroke-width="1.4" stroke-linejoin="round" stroke-linecap="round" />
<path d="M531.0,428.2 L552.6,414.6" fill="none" stroke="#050505" stroke-width="1.3" stroke-linejoin="round" stroke-linecap="round" />
<path d="M593.6,408.6 Q592,412 590.6,419 L589.6,428.6" fill="none" stroke="#050505" stroke-width="1.4" stroke-linejoin="round" stroke-linecap="round" />
<circle cx="540.8" cy="444.2" r="3.4" fill="#050505"/>
<circle cx="540.6" cy="444.0" r="1.0" fill="#888"/>
<circle cx="586.3" cy="416.2" r="3.4" fill="#050505"/>
<circle cx="586.5" cy="416.2" r="1.0" fill="#888"/>
<circle cx="564.9" cy="452.6" r="2.0" fill="#666" stroke="#050505" stroke-width="1.3"/>
<line x1="570.4" y1="453.8" x2="579.0" y2="450.0" stroke="#050505" stroke-width="3.4" stroke-linecap="butt"/>
<line x1="552.8" y1="465.2" x2="560.6" y2="460.8" stroke="#050505" stroke-width="3.4" stroke-linecap="butt"/>
<path d="M541.3,456.6 L547.4,467.0" fill="none" stroke="#050505" stroke-width="1.3" stroke-linejoin="round" stroke-linecap="round" />
<ellipse cx="527.4" cy="453.6" rx="1.6" ry="2.4" transform="rotate(-30 527.4 453.6)" fill="#fdfdfd" stroke="#050505" stroke-width="1.1"/>
<path d="M520.4,457.4 L525.7,459.8 L500.9,501.6 L495.4,498.2 Z" fill="#fdfdfd" stroke="#050505" stroke-width="2.2" stroke-linejoin="round" stroke-linecap="round" />
<line x1="498.2" y1="500.4" x2="493.8" y2="505.6" stroke="#050505" stroke-width="2.6" stroke-linecap="butt"/>
<line x1="491.4" y1="507.0" x2="494.8" y2="507.0" stroke="#050505" stroke-width="2.2" stroke-linecap="butt"/>
<path d="M899.9,651.9 L925.0,637.1 L929.1,637.1 L933.1,640.7 L937.2,640.7 L945.4,643.7 L948.0,646.8 L948.5,652.9 L941.3,663.1 L939.8,665.2 L942.3,670.3 L939.3,672.3 L922.9,683.1 L917.8,683.1 L910.7,676.4 L908.1,671.3 L900.4,670.3 L897.4,665.2 L897.9,661.1 L899.9,659.1 Z" fill="#fdfdfd" stroke="#050505" stroke-width="3.0" stroke-linejoin="round" stroke-linecap="round" />
<line x1="903.8" y1="650.6" x2="904.8" y2="664.6" stroke="#050505" stroke-width="2.6" stroke-linecap="butt"/>
<line x1="909.6" y1="647.6" x2="911.4" y2="664.4" stroke="#050505" stroke-width="3.8" stroke-linecap="butt"/>
<line x1="913.6" y1="646.2" x2="914.6" y2="662.6" stroke="#050505" stroke-width="1.4" stroke-linecap="butt"/>
<ellipse cx="898.8" cy="665.4" rx="2.2" ry="4.6" fill="#050505"/>
<line x1="900.6" y1="668.6" x2="908.6" y2="670.2" stroke="#050505" stroke-width="2.6" stroke-linecap="butt"/>
<path d="M913.6,646.0 L921.0,641.8 L925.4,656.4 L914.8,662.6 Z" fill="#fdfdfd" stroke="#050505" stroke-width="1.8" stroke-linejoin="round" stroke-linecap="round" />
<circle cx="918.4" cy="652.9" r="1.7" fill="#fdfdfd" stroke="#050505" stroke-width="1.3"/>
<path d="M924.2,641.2 L928.4,639.4 L927.2,654.8 L925.6,655.6 Z" fill="#050505" stroke="#050505" stroke-width="2.2" stroke-linejoin="round" stroke-linecap="round" />
<line x1="912.8" y1="662.6" x2="941.0" y2="648.6" stroke="#050505" stroke-width="1.6" stroke-linecap="butt"/>
<path d="M931.4,646.4 L936.0,643.6 L936.0,647.6 L931.6,650.0 Z" fill="#fdfdfd" stroke="#050505" stroke-width="1.4" stroke-linejoin="round" stroke-linecap="round" />
<line x1="929.6" y1="653.6" x2="939.0" y2="648.2" stroke="#050505" stroke-width="2.2" stroke-linecap="butt"/>
<path d="M912.2,668.3 L927.5,660.6 L920.4,680.5 Z" fill="#fdfdfd" stroke="#050505" stroke-width="1.7" stroke-linejoin="round" stroke-linecap="round" />
<line x1="919.8" y1="664.6" x2="922.6" y2="674.2" stroke="#050505" stroke-width="1.2" stroke-linecap="butt"/>
<line x1="916.0" y1="674.2" x2="921.8" y2="671.0" stroke="#050505" stroke-width="1.2" stroke-linecap="butt"/>
<line x1="908.6" y1="671.0" x2="912.2" y2="668.3" stroke="#050505" stroke-width="1.3" stroke-linecap="butt"/>
<line x1="927.5" y1="660.6" x2="927.5" y2="657.6" stroke="#050505" stroke-width="1.3" stroke-linecap="butt"/>
<line x1="738.7" y1="829.8" x2="773.6" y2="769.6" stroke="#050505" stroke-width="5.2" stroke-linecap="butt"/>
<path d="M771.2,765.9 L780.0,771.4 L781.6,768.2 L773.0,762.8 Z" fill="#fdfdfd" stroke="#050505" stroke-width="2.4" stroke-linejoin="round" stroke-linecap="round" />
<path d="M776.0,762.4 L780.6,754.4 Q779.6,750.4 782.6,746.4 L790.6,733.2 L799.6,738.6 L792.4,750.6 Q790.6,754.6 787.0,756.2 L782.2,766.0 Z" fill="#fdfdfd" stroke="#050505" stroke-width="2.6" stroke-linejoin="round" stroke-linecap="round" />
<path d="M791.6,730.6 L801.2,736.4 L802.4,734.2 L792.8,728.6 Z" fill="#fdfdfd" stroke="#050505" stroke-width="1.6" stroke-linejoin="round" stroke-linecap="round" />
<path d="M793.0,729.0 L802.0,714.8 L811.9,720.6 L802.6,735.4 Z" fill="#fdfdfd" stroke="#050505" stroke-width="2.8" stroke-linejoin="round" stroke-linecap="round" />
<path d="M806.6,714.6 L810.6,705.6 Q811.6,703.2 814.0,703.6 L818.6,707.8 L821.2,701.2" fill="none" stroke="#050505" stroke-width="5.4" stroke-linejoin="round" stroke-linecap="round" />
<path d="M806.6,714.6 L810.6,705.6 Q811.6,703.2 814.0,703.6 L818.6,707.8 L820.4,703.4" fill="none" stroke="#fdfdfd" stroke-width="1.4" stroke-linejoin="round" stroke-linecap="round" />
<circle cx="820.6" cy="700.6" r="2.6" fill="#050505"/>
<g transform="translate(0.0,0.0)">
<path d="M487.5,821.8 L489.2,821.0 L499.6,826.8 L500.0,828.6 L495.6,838.3 L495.3,844.0 L496.0,847.7 L494.6,853.4 L491.8,857.2 L483.3,872.3 L481.4,873.7 L469.4,866.0 L469.2,863.3 L475.8,851.5 L472.9,849.2 L472.2,844.0 L473.9,839.2 L477.6,836.4 L481.4,834.5 Z" fill="#050505" stroke="#050505" stroke-width="1.2" stroke-linejoin="round" stroke-linecap="round" />
<path d="M490.5,825.3 L495.2,828.1 L485.0,845.6 L479.0,842.4 Z" fill="#fdfdfd" stroke="#fdfdfd" stroke-width="0.6" stroke-linejoin="round" stroke-linecap="round" />
<path d="M475.5,845.3 L483.3,848.6 L483.3,852.5 L483.9,857.2 L478.3,868.5 L473.4,865.5 L478.8,855.3 L479.3,851.0 L477.2,848.7 Z" fill="#fdfdfd" stroke="#fdfdfd" stroke-width="0.6" stroke-linejoin="round" stroke-linecap="round" />
<ellipse cx="487.6" cy="849.2" rx="1.2" ry="3.3" transform="rotate(30 487.6 849.2)" fill="#fdfdfd"/>
</g>
<g transform="translate(-180.8,301.9)">
<path d="M487.5,821.8 L489.2,821.0 L499.6,826.8 L500.0,828.6 L495.6,838.3 L495.3,844.0 L496.0,847.7 L494.6,853.4 L491.8,857.2 L483.3,872.3 L481.4,873.7 L469.4,866.0 L469.2,863.3 L475.8,851.5 L472.9,849.2 L472.2,844.0 L473.9,839.2 L477.6,836.4 L481.4,834.5 Z" fill="#050505" stroke="#050505" stroke-width="1.2" stroke-linejoin="round" stroke-linecap="round" />
<path d="M490.5,825.3 L495.2,828.1 L485.0,845.6 L479.0,842.4 Z" fill="#fdfdfd" stroke="#fdfdfd" stroke-width="0.6" stroke-linejoin="round" stroke-linecap="round" />
<path d="M475.5,845.3 L483.3,848.6 L483.3,852.5 L483.9,857.2 L478.3,868.5 L473.4,865.5 L478.8,855.3 L479.3,851.0 L477.2,848.7 Z" fill="#fdfdfd" stroke="#fdfdfd" stroke-width="0.6" stroke-linejoin="round" stroke-linecap="round" />
<ellipse cx="487.6" cy="849.2" rx="1.2" ry="3.3" transform="rotate(30 487.6 849.2)" fill="#fdfdfd"/>
</g>
<g transform="translate(0.0,0.0)">
<path d="M610.3,901.0 L612.8,899.4 L622.9,906.0 L623.2,908.2 L615.3,922.7 L615.7,926.5 L613.5,931.5 L609.1,933.7 L604.0,933.4 L600.3,935.3 L594.3,945.3 L591.4,946.3 L582.0,940.0 L581.7,937.2 L586.4,929.0 L593.3,916.4 L596.5,913.3 L602.8,911.7 L605.3,909.5 Z" fill="#fdfdfd" stroke="#050505" stroke-width="3.2" stroke-linejoin="round" stroke-linecap="round" />
<path d="M600.9,924.2 L590.8,940.9 L585.6,937.6" fill="none" stroke="#050505" stroke-width="1.5" stroke-linejoin="round" stroke-linecap="round" />
<line x1="597.1" y1="917" x2="606.5" y2="921.4" stroke="#050505" stroke-width="1.6" stroke-linecap="butt"/>
<line x1="614.0" y1="903.8" x2="606.0" y2="917.6" stroke="#050505" stroke-width="1.4" stroke-linecap="butt"/>
<ellipse cx="608.4" cy="926.5" rx="3.6" ry="4.3" transform="rotate(25 608.4 926.5)" fill="#fdfdfd" stroke="#050505" stroke-width="2.2"/>
<ellipse cx="608.6" cy="926.5" rx="1.2" ry="1.9" transform="rotate(25 608.6 926.5)" fill="#fdfdfd" stroke="#050505" stroke-width="1.0"/>
</g>
<g transform="translate(-180.4,301.9)">
<path d="M610.3,901.0 L612.8,899.4 L622.9,906.0 L623.2,908.2 L615.3,922.7 L615.7,926.5 L613.5,931.5 L609.1,933.7 L604.0,933.4 L600.3,935.3 L594.3,945.3 L591.4,946.3 L582.0,940.0 L581.7,937.2 L586.4,929.0 L593.3,916.4 L596.5,913.3 L602.8,911.7 L605.3,909.5 Z" fill="#fdfdfd" stroke="#050505" stroke-width="3.2" stroke-linejoin="round" stroke-linecap="round" />
<path d="M600.9,924.2 L590.8,940.9 L585.6,937.6" fill="none" stroke="#050505" stroke-width="1.5" stroke-linejoin="round" stroke-linecap="round" />
<line x1="597.1" y1="917" x2="606.5" y2="921.4" stroke="#050505" stroke-width="1.6" stroke-linecap="butt"/>
<line x1="614.0" y1="903.8" x2="606.0" y2="917.6" stroke="#050505" stroke-width="1.4" stroke-linecap="butt"/>
<ellipse cx="608.4" cy="926.5" rx="3.6" ry="4.3" transform="rotate(25 608.4 926.5)" fill="#fdfdfd" stroke="#050505" stroke-width="2.2"/>
<ellipse cx="608.6" cy="926.5" rx="1.2" ry="1.9" transform="rotate(25 608.6 926.5)" fill="#fdfdfd" stroke="#050505" stroke-width="1.0"/>
</g>
<g transform="translate(0.0,0.0)">
<path d="M649.4,989.2 L649.0,972.2 Q649.4,964 650.8,959 Q652.6,954 656,950.5 L677.7,936.3 Q680.2,935.2 682.5,935.8 L698.5,944.8 Q700.6,946.6 700.4,949.5 L696.6,970.3 Q694.4,976.6 690.9,981.6 L673,999.5 Q670.2,1001.4 667.4,1000.9 L657,995.3 Z" fill="#fdfdfd" stroke="#050505" stroke-width="3.5" stroke-linejoin="round" stroke-linecap="round" />
<path d="M682.4,944.0 Q683.4,942.0 685.6,942.6 L693.6,946.7 Q695.8,948.2 695.6,950.6 L692.8,968.4 Q690.6,975 687.2,980.7 L672.1,994.8 Q669,996.6 665.5,995.3 L657.7,990.3 Q656.4,988.6 657.4,987.0 Q664,982 668.3,977.8 Q674,970.6 677.7,962.7 Q680.6,954 682.4,944.0 Z" fill="#fdfdfd" stroke="#050505" stroke-width="2.8" stroke-linejoin="round" stroke-linecap="round" />
<path d="M696.6,951.6 L694.4,968.6 Q692.2,975.6 688.8,981.6 L673.6,996.2" fill="none" stroke="#050505" stroke-width="1.2" stroke-linejoin="round" stroke-linecap="round" />
<line x1="678.7" y1="941.0" x2="653.2" y2="987.3" stroke="#050505" stroke-width="1.3" stroke-linecap="butt"/>
<ellipse cx="661.6" cy="961.6" rx="6.6" ry="8.6" transform="rotate(32 661.6 961.6)" fill="none" stroke="#050505" stroke-width="1.3"/>
<ellipse cx="661.2" cy="961.3" rx="2.3" ry="3.9" transform="rotate(32 661.2 961.3)" fill="#fdfdfd" stroke="#050505" stroke-width="2.2"/>
</g>
<g transform="translate(-183.4,305.9)">
<path d="M649.4,989.2 L649.0,972.2 Q649.4,964 650.8,959 Q652.6,954 656,950.5 L677.7,936.3 Q680.2,935.2 682.5,935.8 L698.5,944.8 Q700.6,946.6 700.4,949.5 L696.6,970.3 Q694.4,976.6 690.9,981.6 L673,999.5 Q670.2,1001.4 667.4,1000.9 L657,995.3 Z" fill="#fdfdfd" stroke="#050505" stroke-width="3.5" stroke-linejoin="round" stroke-linecap="round" />
<path d="M682.4,944.0 Q683.4,942.0 685.6,942.6 L693.6,946.7 Q695.8,948.2 695.6,950.6 L692.8,968.4 Q690.6,975 687.2,980.7 L672.1,994.8 Q669,996.6 665.5,995.3 L657.7,990.3 Q656.4,988.6 657.4,987.0 Q664,982 668.3,977.8 Q674,970.6 677.7,962.7 Q680.6,954 682.4,944.0 Z" fill="#fdfdfd" stroke="#050505" stroke-width="2.8" stroke-linejoin="round" stroke-linecap="round" />
<path d="M696.6,951.6 L694.4,968.6 Q692.2,975.6 688.8,981.6 L673.6,996.2" fill="none" stroke="#050505" stroke-width="1.2" stroke-linejoin="round" stroke-linecap="round" />
<line x1="678.7" y1="941.0" x2="653.2" y2="987.3" stroke="#050505" stroke-width="1.3" stroke-linecap="butt"/>
<ellipse cx="661.6" cy="961.6" rx="6.6" ry="8.6" transform="rotate(32 661.6 961.6)" fill="none" stroke="#050505" stroke-width="1.3"/>
<ellipse cx="661.2" cy="961.3" rx="2.3" ry="3.9" transform="rotate(32 661.2 961.3)" fill="#fdfdfd" stroke="#050505" stroke-width="2.2"/>
</g>
<path d="M415.1,823.2 L432.4,794.6 L437.5,799.2 L447.5,806.7 L447.2,809.6 L434.2,831.7 L431.4,833.1 Z" fill="#fdfdfd" stroke="#050505" stroke-width="3.0" stroke-linejoin="round" stroke-linecap="round" />
<path d="M415.1,823.2 L433.3,793.0 L438.9,797.7 L435.2,805.3 L433.8,811.4 L432.8,815.7 L426.2,820.8 L423.9,826.6 Z" fill="#050505" stroke="#050505" stroke-width="1.2" stroke-linejoin="round" stroke-linecap="round" />
<line x1="432.4" y1="801.5" x2="419.4" y2="822.5" stroke="#fdfdfd" stroke-width="0.8" stroke-linecap="butt"/>
<line x1="434.3" y1="802.6" x2="422.6" y2="823.6" stroke="#fdfdfd" stroke-width="0.8" stroke-linecap="butt"/>
<circle cx="429.6" cy="813.9" r="1.0" fill="#fdfdfd"/>
<line x1="435.6" y1="796.0" x2="439.6" y2="789.4" stroke="#050505" stroke-width="7.0" stroke-linecap="butt"/>
<ellipse cx="440.7" cy="789.3" rx="9.6" ry="4.3" transform="rotate(17 440.7 789.3)" fill="#050505"/>
<ellipse cx="444.5" cy="782.8" rx="9.6" ry="4.2" transform="rotate(17 444.5 782.8)" fill="#050505"/>
<line x1="437.1" y1="788.3" x2="439.2" y2="789.2" stroke="#fdfdfd" stroke-width="1.0" stroke-linecap="butt"/>
<line x1="443.7" y1="790.2" x2="446.5" y2="790.7" stroke="#fdfdfd" stroke-width="1.0" stroke-linecap="butt"/>
<line x1="439.2" y1="781.7" x2="442.7" y2="783.1" stroke="#fdfdfd" stroke-width="1.0" stroke-linecap="butt"/>
<line x1="447.5" y1="784.1" x2="450.3" y2="784.5" stroke="#fdfdfd" stroke-width="1.0" stroke-linecap="butt"/>
<path d="M436.3,771.6 L440.4,769.4 L454.1,782.6 L453.4,785.5 L446.0,783.0 L438.6,777.6 Z" fill="#050505" stroke="#050505" stroke-width="1.6" stroke-linejoin="round" stroke-linecap="round" />
<path d="M242.6,1176.4 L207.4,1231.0 L205.0,1235.6 L181.6,1270.2 Q176.4,1279 174.8,1288 L163.6,1370.6" fill="none" stroke="#050505" stroke-width="3.0" stroke-linejoin="round" stroke-linecap="round" />
<path d="M253.0,1182.6 L197.8,1270.0 Q192.6,1279 190.4,1290 L180.6,1372.6" fill="none" stroke="#050505" stroke-width="3.0" stroke-linejoin="round" stroke-linecap="round" />
<line x1="242.6" y1="1176.4" x2="253.0" y2="1182.6" stroke="#050505" stroke-width="3.0" stroke-linecap="round"/>
<path d="M163.6,1370.6 Q170,1377.5 180.6,1372.6" fill="none" stroke="#050505" stroke-width="3.0" stroke-linejoin="round" stroke-linecap="round" />
<circle cx="235.6" cy="1207.4" r="2.4" fill="#050505"/>
<circle cx="183.2" cy="1322.6" r="2.2" fill="#050505"/>
<circle cx="178.4" cy="1348.8" r="2.2" fill="#050505"/>
<path d="M413.6,1291.6 L364.0,1372.6 Q355.6,1384 353.6,1396 L341.4,1483.6" fill="none" stroke="#050505" stroke-width="3.0" stroke-linejoin="round" stroke-linecap="round" />
<path d="M428.8,1296.4 L380.2,1377.6 Q372.2,1389 370.0,1401 L356.4,1486.4" fill="none" stroke="#050505" stroke-width="3.0" stroke-linejoin="round" stroke-linecap="round" />
<path d="M413.6,1291.6 Q421,1288.6 428.8,1296.4" fill="none" stroke="#050505" stroke-width="3.0" stroke-linejoin="round" stroke-linecap="round" />
<path d="M341.4,1483.6 Q348,1490.5 356.4,1486.4" fill="none" stroke="#050505" stroke-width="3.0" stroke-linejoin="round" stroke-linecap="round" />
<path d="M416.6,1293.6 L377.4,1358.6 Q375.4,1364.6 379.4,1367.6 Q383.4,1369.0 386.4,1363.6" fill="none" stroke="#050505" stroke-width="1.6" stroke-linejoin="round" stroke-linecap="round" />
<circle cx="405.0" cy="1318.8" r="2.2" fill="#fdfdfd" stroke="#050505" stroke-width="1.3"/>
<circle cx="360.8" cy="1432.6" r="2.2" fill="#050505"/>
<circle cx="355.8" cy="1460.0" r="2.2" fill="#050505"/>
<line x1="147.0" y1="1300.7" x2="156.4" y2="1305.4" stroke="#050505" stroke-width="6.8" stroke-linecap="round"/>
<circle cx="147.0" cy="1300.7" r="5.6" fill="#050505"/>
<circle cx="147.0" cy="1300.7" r="1.2" fill="#ccc"/>
<line x1="141.8" y1="1329.9" x2="151.2" y2="1334.6" stroke="#050505" stroke-width="6.8" stroke-linecap="round"/>
<circle cx="141.8" cy="1329.9" r="5.6" fill="#050505"/>
<circle cx="141.8" cy="1329.9" r="1.2" fill="#ccc"/>
<line x1="407.5" y1="1453.75" x2="398.0" y2="1448.6" stroke="#050505" stroke-width="6.8" stroke-linecap="round"/>
<circle cx="407.5" cy="1453.75" r="5.6" fill="#050505"/>
<circle cx="407.5" cy="1453.75" r="1.2" fill="#ccc"/>
<line x1="403.75" y1="1481.25" x2="394.2" y2="1476.2" stroke="#050505" stroke-width="6.8" stroke-linecap="round"/>
<circle cx="403.75" cy="1481.25" r="5.6" fill="#050505"/>
<circle cx="403.75" cy="1481.25" r="1.2" fill="#ccc"/>
<path d="M641.6,939.1 L651.6,923.6 Q653.4,920.6 651.0,919.2 Q648.4,918.0 646.0,921.0 L606.6,982.9 Q604.4,988.6 607.6,991.0 Q612.0,993.4 616.3,987.5" fill="none" stroke="#050505" stroke-width="1.5" stroke-linejoin="round" stroke-linecap="round" />
<line x1="641.2" y1="925.6" x2="609.6" y2="980.6" stroke="#050505" stroke-width="2.2" stroke-linecap="butt"/>
<circle cx="635.6" cy="940.8" r="2.1" fill="#fdfdfd" stroke="#050505" stroke-width="1.3"/>
<circle cx="278.6" cy="1133.0" r="2.4" fill="#fdfdfd" stroke="#050505" stroke-width="1.4"/>
<circle cx="458.2" cy="1248.2" r="2.4" fill="#fdfdfd" stroke="#050505" stroke-width="1.4"/>
<circle cx="460.0" cy="829.8" r="2.4" fill="#fdfdfd" stroke="#050505" stroke-width="1.4"/>
<path d="M1035.6,461.6 Q1035.2,459.2 1038.4,459.0 L1047.6,460.8 L1053.7,467.6 L1058.8,470.7 L1059.3,475.8 L1054.8,481.2 L1050.7,481.9 L1045.0,477.8 L1040.4,481.9 L1036.9,480.9 Z" fill="#fdfdfd" stroke="#050505" stroke-width="3.0" stroke-linejoin="round" stroke-linecap="round" />
<circle cx="1039.9" cy="465.0" r="2.3" fill="#050505"/>
<circle cx="1053.7" cy="475.8" r="2.3" fill="#050505"/>
<line x1="1047.8" y1="461.6" x2="1054.6" y2="468.4" stroke="#050505" stroke-width="1.3" stroke-linecap="butt"/>
<path d="M1048.6,554.5 L1063.9,566.2 L1077.2,565.2 Q1083.2,562.0 1083.9,558.6 L1084.6,553.4" fill="none" stroke="#050505" stroke-width="3.0" stroke-linejoin="round" stroke-linecap="round" />
<line x1="1058.8" y1="557.6" x2="1073.2" y2="556.4" stroke="#050505" stroke-width="1.4" stroke-linecap="butt"/>
<line x1="1073.2" y1="556.4" x2="1072.0" y2="562.6" stroke="#050505" stroke-width="1.4" stroke-linecap="butt"/>
<line x1="1075.2" y1="555.4" x2="1081.4" y2="555.4" stroke="#050505" stroke-width="1.4" stroke-linecap="butt"/>
<path d="M1073.6,557.6 Q1080,557 1080.6,561.6" fill="none" stroke="#050505" stroke-width="1.3" stroke-linejoin="round" stroke-linecap="round" />
<line x1="1067.6" y1="546.0" x2="1067.2" y2="552.6" stroke="#050505" stroke-width="1.6" stroke-linecap="butt"/>
<ellipse cx="1053.0" cy="550.2" rx="3.4" ry="5.0" transform="rotate(-8 1053 550.2)" fill="#fdfdfd" stroke="#050505" stroke-width="3.0"/>
<ellipse cx="1053.4" cy="550.2" rx="1.7" ry="3.1" fill="#050505"/>
</svg></body></html>
